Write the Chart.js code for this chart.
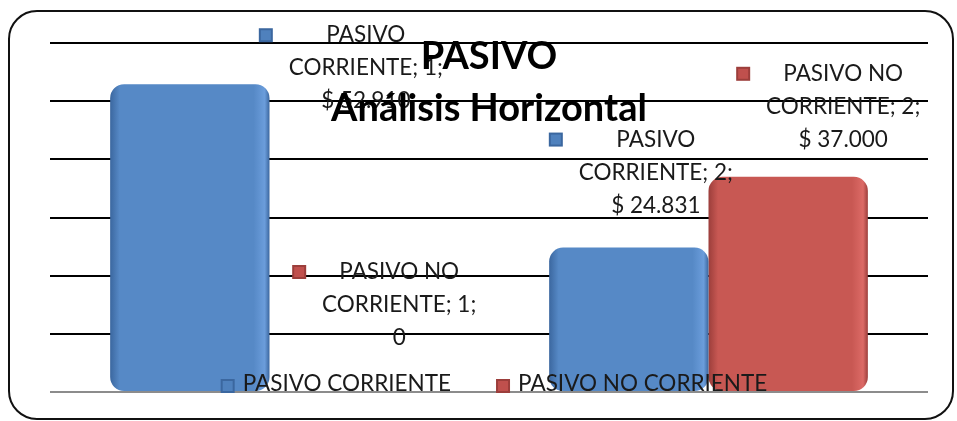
<!DOCTYPE html>
<html>
<head>
<meta charset="utf-8">
<script src="https://cdn.jsdelivr.net/npm/chart.js@4/dist/chart.umd.min.js"></script>
<style>
  html, body { margin: 0; padding: 0; background: #fff; }
  #wrap { width: 957px; height: 421px; }
</style>
</head>
<body>
<div id="wrap"><canvas id="pasivoChart" width="957" height="421"></canvas></div>
<script>
// Pasivo - Análisis Horizontal

// Data
const categories = ['1', '2'];
const seriesNames = ['PASIVO CORRIENTE', 'PASIVO NO CORRIENTE'];
const pasivoCorriente = [52910, 24831];
const pasivoNoCorriente = [0, 37000];
const yTicks = [0, 10000, 20000, 30000, 40000, 50000, 60000];

const titleLines = ['PASIVO', 'Análisis Horizontal'];

// Colors
const palette = [
    { dark: '#3b679f', main: '#5689c6', light: '#6b9ddb', marker: '#4f81bd' },
    { dark: '#9c3e3b', main: '#c85853', light: '#dc6a66', marker: '#c0504d' }
];

const FONT = 'Lato, "Open Sans", sans-serif';

// Label position relative to bar top center [dataset][index]
const labelOffsets = [
    [{ dx: 176, dy: -49 }, { dx: 27, dy: -108 }],
    [{ dx: 50, dy: -120 }, { dx: 55, dy: -103 }]
];

function formatValue(v) {
    if (v === 0) return '0';
    return '$ ' + new Intl.NumberFormat('es-CL').format(v);
}

// Small beveled square like the Excel legend key
function drawMarker(ctx, cx, cy, col) {
    const s = 14;
    const x = cx - s / 2, y = cy - s / 2;
    ctx.save();
    ctx.fillStyle = col.dark;
    ctx.fillRect(x, y, s, s);
    ctx.fillStyle = col.marker;
    ctx.fillRect(x + 2, y + 2, s - 4, s - 4);
    ctx.restore();
}

// Horizontal gradient per bar to mimic the bevel
function bevelFill(c) {
    const col = palette[c.datasetIndex];
    const bar = c.element;
    if (!bar || !isFinite(bar.x) || !bar.width) return col.main;
    const left = bar.x - bar.width / 2;
    const right = bar.x + bar.width / 2;
    const g = c.chart.ctx.createLinearGradient(left, 0, right, 0);
    g.addColorStop(0, col.dark);
    g.addColorStop(0.06, col.main);
    g.addColorStop(0.9, col.main);
    g.addColorStop(0.97, col.light);
    g.addColorStop(1, col.dark);
    return g;
}

// Rounded frame around the whole chart
const framePlugin = {
    id: 'frame',
    beforeDraw(chart) {
        const ctx = chart.ctx;
        ctx.save();
        ctx.fillStyle = '#fff';
        ctx.fillRect(0, 0, chart.width, chart.height);
        ctx.beginPath();
        ctx.roundRect(9, 11, 944, 408, 28);
        ctx.lineWidth = 2;
        ctx.strokeStyle = '#111';
        ctx.stroke();
        ctx.restore();
    }
};

// Re-apply gradients once bars have their final geometry
const bevelPlugin = {
    id: 'bevel',
    beforeDatasetsDraw(chart) {
        chart.data.datasets.forEach((ds, di) => {
            chart.getDatasetMeta(di).data.forEach((bar, i) => {
                const opts = Object.assign({}, bar.options);
                opts.backgroundColor = bevelFill({ chart, datasetIndex: di, element: bar });
                bar.options = opts;
            });
        });
    }
};

// Data labels, legend and title drawn on top
const overlayPlugin = {
    id: 'overlay',
    afterDraw(chart) {
        const ctx = chart.ctx;
        const area = chart.chartArea;
        ctx.save();
        ctx.textAlign = 'center';
        ctx.textBaseline = 'middle';
        ctx.fillStyle = '#1a1a1a';
        ctx.font = '22.5px ' + FONT;

        // data labels
        chart.data.datasets.forEach((ds, di) => {
            chart.getDatasetMeta(di).data.forEach((bar, i) => {
                const off = labelOffsets[di][i];
                const cx = bar.x + off.dx;
                const cy = bar.y + off.dy;
                const lines = di === 0
                    ? ['PASIVO', 'CORRIENTE; ' + categories[i] + ';', formatValue(ds.data[i])]
                    : ['PASIVO NO', 'CORRIENTE; ' + categories[i] + ';', formatValue(ds.data[i])];
                drawMarker(ctx, cx - 100, cy, palette[di]);
                lines.forEach((t, k) => ctx.fillText(t, cx, cy + k * 33));
            });
        });

        // legend
        ctx.textAlign = 'left';
        const gap = 45;
        const widths = seriesNames.map(n => 14 + 8 + ctx.measureText(n).width);
        const total = widths[0] + gap + widths[1];
        let lx = (area.left + area.right) / 2 - total / 2 + 5;
        const ly = 384;
        seriesNames.forEach((n, di) => {
            drawMarker(ctx, lx + 7, ly + 2, palette[di]);
            ctx.fillText(n, lx + 22, ly);
            lx += widths[di] + gap;
        });

        // title
        ctx.textAlign = 'center';
        ctx.fillStyle = '#000';
        ctx.font = 'bold 38px ' + FONT;
        const tx = (area.left + area.right) / 2;
        ctx.fillText(titleLines[0], tx, 57);
        ctx.fillText(titleLines[1], tx, 109);
        ctx.restore();
    }
};

const chart = new Chart(document.getElementById('pasivoChart'), {
    type: 'bar',
    data: {
        labels: categories,
        datasets: [
            { label: seriesNames[0], data: pasivoCorriente, backgroundColor: bevelFill },
            { label: seriesNames[1], data: pasivoNoCorriente, backgroundColor: bevelFill }
        ]
    },
    options: {
        responsive: false,
        animation: false,
        devicePixelRatio: 1,
        layout: { padding: { left: 50, right: 29, top: 43, bottom: 29 } },
        datasets: {
            bar: {
                categoryPercentage: 0.726,
                barPercentage: 1,
                borderRadius: 14,
                borderSkipped: false
            }
        },
        plugins: {
            legend: { display: false },
            title: { display: false },
            tooltip: { enabled: false }
        },
        scales: {
            x: { display: false },
            y: {
                min: yTicks[0],
                max: yTicks[yTicks.length - 1],
                afterBuildTicks: axis => { axis.ticks = yTicks.map(v => ({ value: v })); },
                ticks: { display: false },
                border: { display: false },
                grid: {
                    color: c => c.tick && c.tick.value === 0 ? '#8c8c8c' : '#000',
                    lineWidth: 2,
                    drawTicks: false
                }
            }
        }
    },
    plugins: [framePlugin, bevelPlugin, overlayPlugin]
});
</script>
</body>
</html>
